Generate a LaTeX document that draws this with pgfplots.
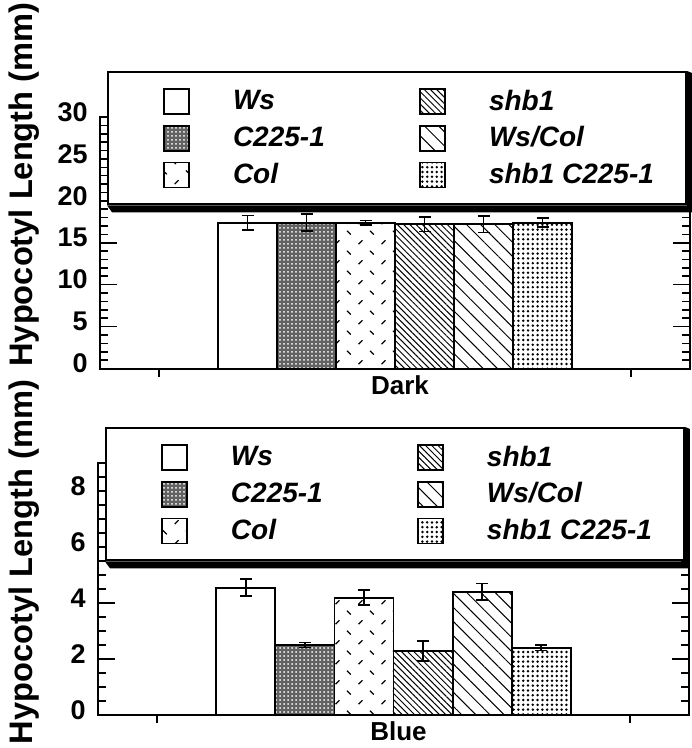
\documentclass[border=0pt]{standalone}
\usepackage{fontspec}
\setmainfont{Liberation Sans}
\usepackage{pgfplots}
\pgfplotsset{compat=1.18}
\usetikzlibrary{patterns,patterns.meta}

\pgfdeclarepatternformonly{coldash}{\pgfqpoint{0pt}{0pt}}{\pgfqpoint{11.5pt}{10pt}}{\pgfqpoint{11.5pt}{10pt}}{%
  \pgfsetlinewidth{0.6pt}%
  \pgfpathmoveto{\pgfqpoint{1pt}{9pt}}\pgfpathlineto{\pgfqpoint{3pt}{7pt}}%
  \pgfpathmoveto{\pgfqpoint{7pt}{2pt}}\pgfpathlineto{\pgfqpoint{9pt}{4pt}}%
  \pgfusepath{stroke}}

\pgfplotsset{
  legimg/.style={legend image code/.code={\pgfpathmoveto{\pgfqpoint{0pt}{0pt}}\pgfpathlineto{\pgfqpoint{62.5pt}{0pt}}\pgfusepath{}\draw[##1,line width=0.9pt] (28pt,-6.25pt) rectangle (40.5pt,6.25pt);}},
  sWs/.style={draw=black, fill=white, line width=0.9pt, legimg},
  sC/.style={draw=black, fill=black!62, postaction={pattern={Dots[radius=0.5pt,distance=2pt]}, pattern color=white}, line width=0.9pt, legimg},
  sCol/.style={draw=black, fill=white, postaction={pattern=coldash}, line width=0.9pt, legimg},
  sShb/.style={draw=black, fill=white, postaction={pattern={Lines[angle=-45,distance=2.2pt,line width=0.5pt]}}, line width=0.9pt, legimg},
  sWC/.style={draw=black, fill=white, postaction={pattern={Lines[angle=-45,distance=5pt,line width=0.5pt]}}, line width=0.9pt, legimg},
  sSC/.style={draw=black, fill=white, postaction={pattern={Dots[radius=0.68pt,distance=2.4pt]}}, line width=0.9pt, legimg},
  common/.style={
    scale only axis, anchor=south west,
    xmin=0, xmax=10,
    xtick={1,9}, xticklabels={}, xtick pos=bottom,
    ytick pos=both, yticklabel pos=left,
    tick align=inside,
    major tick length=8.3pt, minor tick length=4.2pt,
    xtick style={/pgfplots/major tick length=4pt},
    tick style={line width=0.8pt, black},
    axis line style={line width=1pt},
    ybar, bar width=1, bar shift=0pt,
    /pgf/number format/assume math mode=true,
    yticklabel style={font=\bfseries\fontsize{13.5}{14}\selectfont, inner sep=0pt, xshift=-6pt, yshift=2.5pt},
    xlabel style={font=\bfseries\fontsize{13}{13}\selectfont, at={(axis description cs:0.5,0)}, anchor=north, yshift=-3.3pt, xshift=2.5pt, inner sep=0pt},
    legend columns=2,
    legend cell align=left,
    legend style={anchor=north west, draw=black, line width=1pt, fill=white, inner xsep=0pt, inner ysep=8pt, column sep=0pt, row sep=5pt,
      font=\bfseries\itshape\fontsize{14}{14}\selectfont,
      nodes={inner sep=0pt}},
    error bars/y dir=both, error bars/y explicit,
    error bars/error mark options={rotate=90, mark size=3pt, line width=0.8pt, black},
    error bars/error bar style={line width=0.8pt, black},
  }
}

\begin{document}
\begin{tikzpicture}
\useasboundingbox (0pt,0pt) rectangle (345.5pt,-374pt);

\begin{axis}[common,
  at={(50pt,-184.25pt)}, width=295pt, height=125.75pt,
  ymin=0, ymax=30, ytick={0,5,...,30}, minor ytick={0,1,...,30},
  xlabel={Dark},
  ylabel={Hypocotyl Length (mm)},
  every axis y label/.style={at={(axis description cs:-0.129,0.006)}, rotate=90, anchor=west, inner sep=0pt, font=\bfseries\fontsize{16.3}{16.3}\selectfont},
  legend style={at={(axis description cs:0.0119,1.183)}, name=legA},
]
\addplot[sWs]  coordinates {(2.5,17.4) +- (0,0.85)};
\addlegendentry{\makebox[65.5pt][l]{Ws}}
\addplot[sShb] coordinates {(5.5,17.2) +- (0,0.85)};
\addlegendentry{\makebox[98.5pt][l]{shb1}}
\addplot[sC]   coordinates {(3.5,17.4) +- (0,1.0)};
\addlegendentry{\makebox[65.5pt][l]{C225-1}}
\addplot[sWC]  coordinates {(6.5,17.2) +- (0,1.0)};
\addlegendentry{\makebox[98.5pt][l]{Ws/Col}}
\addplot[sCol] coordinates {(4.5,17.4) +- (0,0.25)};
\addlegendentry{\makebox[65.5pt][l]{Col}}
\addplot[sSC]  coordinates {(7.5,17.4) +- (0,0.55)};
\addlegendentry{\makebox[98.5pt][l]{shb1 C225-1}}
\end{axis}
\fill[black] (legA.south west) -- ([shift={(2.5pt,-3.5pt)}]legA.south west) -- ([shift={(2.5pt,-3.5pt)}]legA.south east) -- ([shift={(2.5pt,-1pt)}]legA.north east) -- (legA.north east) -- (legA.south east) -- cycle;

\begin{axis}[common,
  at={(49pt,-357.5pt)}, width=295.5pt, height=126pt,
  ymin=0, ymax=9, ytick={0,2,...,8}, minor ytick={0,0.5,...,9},
  xlabel={Blue},
  ylabel={Hypocotyl Length (mm)},
  every axis y label/.style={at={(axis description cs:-0.125,-0.117)}, rotate=90, anchor=west, inner sep=0pt, font=\bfseries\fontsize{16.3}{16.3}\selectfont},
  legend style={at={(axis description cs:0.0118,1.143)}, name=legB},
]
\addplot[sWs]  coordinates {(2.5,4.55) +- (0,0.30)};
\addlegendentry{\makebox[65.5pt][l]{Ws}}
\addplot[sShb] coordinates {(5.5,2.29) +- (0,0.36)};
\addlegendentry{\makebox[98.5pt][l]{shb1}}
\addplot[sC]   coordinates {(3.5,2.50) +- (0,0.09)};
\addlegendentry{\makebox[65.5pt][l]{C225-1}}
\addplot[sWC]  coordinates {(6.5,4.40) +- (0,0.30)};
\addlegendentry{\makebox[98.5pt][l]{Ws/Col}}
\addplot[sCol] coordinates {(4.5,4.19) +- (0,0.27)};
\addlegendentry{\makebox[65.5pt][l]{Col}}
\addplot[sSC]  coordinates {(7.5,2.40) +- (0,0.09)};
\addlegendentry{\makebox[98.5pt][l]{shb1 C225-1}}
\end{axis}
\fill[black] (legB.south west) -- ([shift={(2.5pt,-3.5pt)}]legB.south west) -- ([shift={(2.5pt,-3.5pt)}]legB.south east) -- ([shift={(2.5pt,-1pt)}]legB.north east) -- (legB.north east) -- (legB.south east) -- cycle;
\end{tikzpicture}
\end{document}
